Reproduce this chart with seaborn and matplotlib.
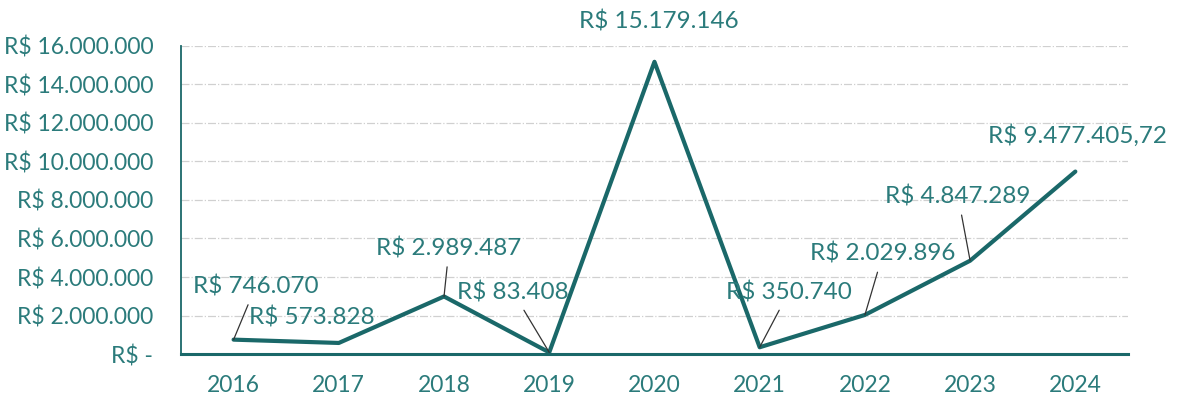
import matplotlib
matplotlib.use("Agg")
import matplotlib.pyplot as plt
import pandas as pd
import seaborn as sns

anos = ['2016', '2017', '2018', '2019', '2020', '2021', '2022', '2023', '2024']
valores = [746070, 573828, 2989487, 83408, 15179146, 350740, 2029896, 4847289, 9477405.72]
rotulos = ['R$ 746.070', 'R$ 573.828', 'R$ 2.989.487', 'R$ 83.408', 'R$ 15.179.146',
           'R$ 350.740', 'R$ 2.029.896', 'R$ 4.847.289', 'R$ 9.477.405,72']
# deslocamento dos rotulos (pixels) e se tem linha de chamada
desloc = [(22, 53), (-27, 25), (5, 48), (-36, 60), (4, 40), (29, 55), (18, 61), (-12, 64), (2, 36)]
chamada = [True, False, True, True, False, True, True, True, False]
yticks = [0, 2e6, 4e6, 6e6, 8e6, 10e6, 12e6, 14e6, 16e6]

cor_linha = '#1A6869'
cor_texto = '#2B7B7B'

sns.set_style('white')
plt.rcParams['font.family'] = ['Lato', 'DejaVu Sans']

df = pd.DataFrame({'ano': anos, 'valor': valores})

fig = plt.figure(figsize=(11.79, 4.01), dpi=100)
ax = fig.add_axes([0.1535, 0.1172, 0.8032, 0.7681])
sns.lineplot(data=df, x='ano', y='valor', color=cor_linha, lw=3, ax=ax)

ax.set_xlim(-0.5, len(anos) - 0.5)
ax.set_ylim(0, 16e6)
ax.set_yticks(yticks)
ax.set_yticklabels(['R$ -' if v == 0 else 'R$ ' + f'{int(v):,}'.replace(',', '.') for v in yticks])
ax.set_xticks(range(len(anos)))
ax.set_xticklabels(anos)
ax.set_xticks([i - 0.5 for i in range(len(anos) + 1)], minor=True)
ax.tick_params(axis='x', which='major', length=0, pad=15, labelsize=16.5, labelcolor=cor_texto)
ax.tick_params(axis='x', which='minor', length=6, width=2, color=cor_linha, direction='out')
ax.tick_params(axis='y', length=5, width=1.2, color=cor_linha, direction='in', pad=20,
               labelsize=16.5, labelcolor=cor_texto)
ax.set_xlabel('')
ax.set_ylabel('')

ax.grid(axis='y', color='#D0D0D0', lw=0.9, ls='-.')
ax.set_axisbelow(True)
for s in ['top', 'right']:
    ax.spines[s].set_visible(False)
ax.spines['left'].set_color(cor_linha)
ax.spines['left'].set_linewidth(1.3)
ax.spines['bottom'].set_color(cor_linha)
ax.spines['bottom'].set_linewidth(2.2)

for i, (txt, (dx, dy), c) in enumerate(zip(rotulos, desloc, chamada)):
    props = dict(arrowstyle='-', color='#333333', lw=0.9, shrinkA=3, shrinkB=0) if c else None
    ax.annotate(txt, xy=(i, valores[i]), xytext=(dx, dy), textcoords='offset pixels',
                ha='center', va='center', fontsize=17.5, color=cor_texto,
                arrowprops=props, annotation_clip=False)

fig.savefig('out.png', dpi=100)
